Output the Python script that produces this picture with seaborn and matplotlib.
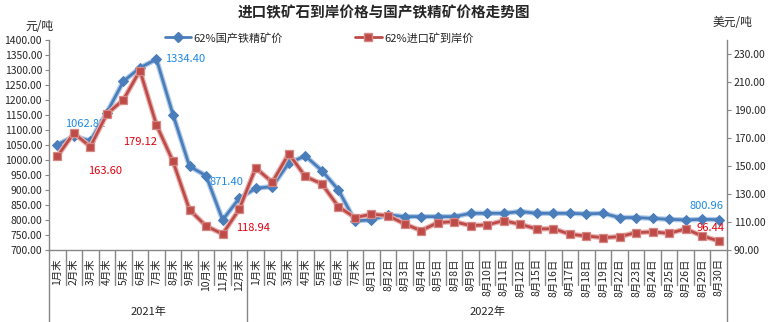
import matplotlib
matplotlib.use("Agg")
import matplotlib.pyplot as plt
from matplotlib.lines import Line2D
import matplotlib.transforms as mtransforms
import seaborn as sns
import pandas as pd
import numpy as np

# ---------------- data ----------------
cats_2021 = ['1月末', '2月末', '3月末', '4月末', '5月末', '6月末', '7月末', '8月末',
             '9月末', '10月末', '11月末', '12月末']
cats_2022 = ['1月末', '2月末', '3月末', '4月末', '5月末', '6月末', '7月末',
             '8月1日', '8月2日', '8月3日', '8月4日', '8月5日', '8月8日', '8月9日',
             '8月10日', '8月11日', '8月12日', '8月15日', '8月16日', '8月17日',
             '8月18日', '8月19日', '8月22日', '8月23日', '8月24日', '8月25日',
             '8月26日', '8月29日', '8月30日']
groups = ['2021年', '2022年']

# 62%国产铁精矿价 (元/吨, left axis)
domestic = [1050, 1078, 1062.82, 1157, 1261, 1306, 1334.40, 1150, 978, 947, 800, 871.40,
            905, 911, 989, 1013, 964, 900, 797,
            800, 817, 811, 811, 811, 811, 822, 822, 822, 828, 822, 822, 822, 820, 822,
            808, 808, 805, 802, 800, 802, 800.96]
# 62%进口矿到岸价 (美元/吨, right axis)
imported = [156.7, 173.3, 163.60, 186.9, 197.1, 217.9, 179.12, 153.1, 118.6, 107.1, 101.4, 118.94,
            148.5, 138.3, 158.6, 142.4, 137.1, 120.9, 113.1,
            115.5, 114.5, 108.6, 103.8, 109.5, 110.2, 107.4, 107.9, 110.9, 108.3, 105.0,
            105.2, 101.2, 100.0, 98.8, 99.5, 102.4, 102.9, 101.9, 105.0, 100.0, 96.44]

left_ticks = list(range(700, 1401, 50))
right_ticks = list(range(90, 231, 20))

labels = cats_2021 + cats_2022
n = len(labels)
df = pd.DataFrame({'pos': np.arange(n), 'domestic': domestic, 'imported': imported})

# ---------------- style ----------------
sns.set_style("white")
plt.rcParams['font.family'] = ['Noto Sans CJK SC', 'DejaVu Sans']
plt.rcParams['axes.unicode_minus'] = False

BLUE = '#4A7EBB'
RED = '#BE4B48'
BLUE_GLOW = '#B3CBE8'
RED_GLOW = '#E6B2B0'
BLUE_LBL = '#1E88E5'
RED_LBL = '#E00010'
AXC = '#868686'

fig = plt.figure(figsize=(7.69, 3.22), dpi=100)
ax = fig.add_axes([49/769, 1-250/322, (727-49)/769, (250-39.5)/322])
ax2 = ax.twinx()

# soft halo under each line
sns.lineplot(data=df, x='pos', y='domestic', ax=ax, color=BLUE_GLOW, lw=3.8,
             sort=False, zorder=2)
sns.lineplot(data=df, x='pos', y='domestic', ax=ax, color=BLUE, lw=2.0,
             marker='D', markersize=5.6, markeredgecolor=BLUE, sort=False, zorder=3)
sns.lineplot(data=df, x='pos', y='imported', ax=ax2, color=RED_GLOW, lw=3.8,
             sort=False, zorder=2)
sns.lineplot(data=df, x='pos', y='imported', ax=ax2, color=RED, lw=2.0,
             marker='s', markersize=6.4, markeredgecolor='#D58784', markeredgewidth=0.9,
             sort=False, zorder=3)

ax.set_xlim(-0.5, n - 0.5)
ax.set_ylim(700, 1400)
ax2.set_ylim(90, 240)
ax.set_yticks(left_ticks)
ax.set_yticklabels([f'{v:.2f}' for v in left_ticks])
ax2.set_yticks(right_ticks)
ax2.set_yticklabels([f'{v:.2f}' for v in right_ticks])
ax.set_xlabel('')
ax.set_ylabel('')
ax2.set_ylabel('')

ax.set_xticks(range(n))
ax.set_xticklabels(labels, rotation=90, va='top', ha='center', fontsize=7.5)
ax.tick_params(axis='x', length=0, pad=6)
ax.tick_params(axis='y', direction='out', length=3, width=0.8, color=AXC,
               labelsize=7.5, pad=2)
ax2.tick_params(axis='y', direction='out', length=3, width=0.8, color=AXC,
                labelsize=7.5, pad=2)

for a in (ax, ax2):
    a.spines['top'].set_visible(False)
    for s in ('left', 'right', 'bottom'):
        a.spines[s].set_color(AXC)
        a.spines[s].set_linewidth(1.0)
ax.spines['right'].set_visible(False)
ax2.spines['left'].set_visible(False)
ax2.spines['bottom'].set_visible(False)

# category separators and group separators below the axis
trans = mtransforms.blended_transform_factory(ax.transData, ax.transAxes)
ax_h_px = 250 - 39.5
short = -35 / ax_h_px
full = -72 / ax_h_px
n21 = len(cats_2021)
for k in range(n - 1):
    x = k + 0.5
    y1 = full if k == n21 - 1 else short
    ax.plot([x, x], [0, y1], transform=trans, color=AXC, lw=1.0, clip_on=False)
for x in (-0.5, n - 0.5):
    ax.plot([x, x], [0, full], transform=trans, color=AXC, lw=1.0, clip_on=False)

ax.text((n21 - 1) / 2, -62 / ax_h_px, groups[0], transform=trans, ha='center',
        va='center', fontsize=8)
ax.text(n21 + (len(cats_2022) - 1) / 2, -62 / ax_h_px, groups[1], transform=trans,
        ha='center', va='center', fontsize=8)

# data labels (offsets in pixels converted to points)
def lbl(axis, idx, series, dx, dy, color):
    v = series[idx]
    axis.annotate(f'{v:.2f}', xy=(idx, v), xytext=(dx * 0.72, dy * 0.72),
                  textcoords='offset points', ha='center', va='center',
                  color=color, fontsize=8, zorder=5)

lbl(ax, 2, domestic, -5, 17, BLUE_LBL)
lbl(ax, 6, domestic, 29, 0, BLUE_LBL)
lbl(ax, 11, domestic, -13, 16, BLUE_LBL)
lbl(ax, n - 1, domestic, -12, 14, BLUE_LBL)
lbl(ax2, 2, imported, 15, -24, RED_LBL)
lbl(ax2, 6, imported, -16, -17, RED_LBL)
lbl(ax2, 11, imported, 14, -19, RED_LBL)
lbl(ax2, n - 1, imported, -8, 13, RED_LBL)

# title, unit labels
fig.text(384 / 769, 1 - 12 / 322, '进口铁矿石到岸价格与国产铁精矿价格走势图',
         ha='center', va='center', fontsize=10.5, fontweight='bold')
fig.text(39 / 769, 1 - 27 / 322, '元/吨', ha='center', va='center', fontsize=8.5)
fig.text(732 / 769, 1 - 23 / 322, '美元/吨', ha='center', va='center', fontsize=8.5)

# legend
h1 = Line2D([], [], color=BLUE, lw=2.0, marker='D', markersize=5.6)
h2 = Line2D([], [], color=RED, lw=2.0, marker='s', markersize=6.4,
            markeredgecolor='#D58784')
fig.legend([h1, h2], ['62%国产铁精矿价', '62%进口矿到岸价'], ncol=2, frameon=False,
           loc='center', bbox_to_anchor=(319 / 769, 1 - 38 / 322), fontsize=8,
           handlelength=2.4, handletextpad=0.2, columnspacing=6.5)

fig.savefig('out.png', dpi=100)
